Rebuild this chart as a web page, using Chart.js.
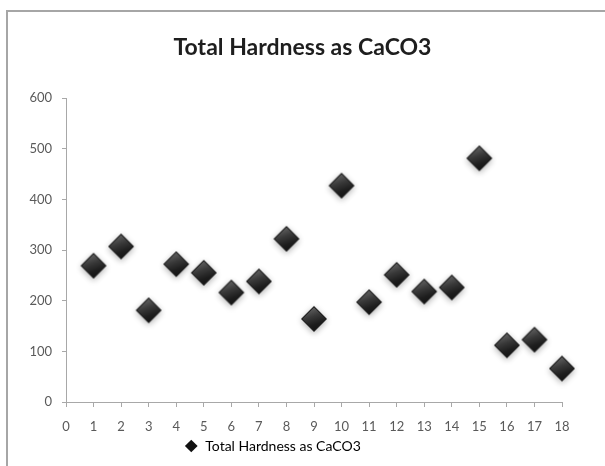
<!DOCTYPE html>
<html>
<head>
<meta charset="utf-8">
<title>Total Hardness as CaCO3</title>
<script src="https://cdn.jsdelivr.net/npm/chart.js@4.4.1/dist/chart.umd.min.js"></script>
<style>
  html, body { margin: 0; padding: 0; background: #ffffff; }
  #wrap { position: relative; width: 605px; height: 466px; overflow: hidden; }
  #chart { position: absolute; left: 0; top: 0; }
  #frame {
    position: absolute; left: 6px; top: 10px; width: 620px; height: 480px;
    border-left: 2px solid #a6a6a6; border-top: 2px solid #a6a6a6;
    pointer-events: none;
  }
</style>
</head>
<body>
<div id="wrap">
  <canvas id="chart" width="605" height="466"></canvas>
  <div id="frame"></div>
</div>
<script>
// Sample numbers and measured total hardness (mg/L as CaCO3)
const sampleNo = [1, 2, 3, 4, 5, 6, 7, 8, 9, 10, 11, 12, 13, 14, 15, 16, 17, 18];
const hardness = [269, 307, 181, 272, 255, 216, 238, 322, 164, 427, 197, 251, 218, 226, 481, 112, 123, 66];
const seriesName = 'Total Hardness as CaCO3';
const xTicks = [0, 1, 2, 3, 4, 5, 6, 7, 8, 9, 10, 11, 12, 13, 14, 15, 16, 17, 18];
const yTicks = [0, 100, 200, 300, 400, 500, 600];

// Bevelled black diamond used as the point marker
function makeDiamond(r) {
  const pad = 7;
  const s = 2 * (r + pad);
  const c = document.createElement('canvas');
  c.width = s; c.height = s;
  const g = c.getContext('2d');
  const cx = s / 2, cy = s / 2;
  const path = (rr) => {
    g.beginPath();
    g.moveTo(cx, cy - rr);
    g.lineTo(cx + rr, cy);
    g.lineTo(cx, cy + rr);
    g.lineTo(cx - rr, cy);
    g.closePath();
  };
  g.save();
  g.shadowColor = 'rgba(0,0,0,0.30)';
  g.shadowBlur = 6;
  g.shadowOffsetY = 2;
  path(r);
  g.fillStyle = '#1b1b1b';
  g.fill();
  g.restore();
  const grad = g.createLinearGradient(cx - r * 0.4, cy - r, cx + r * 0.3, cy + r);
  grad.addColorStop(0, '#6e6e6e');
  grad.addColorStop(0.4, '#3a3a3a');
  grad.addColorStop(0.7, '#1e1e1e');
  grad.addColorStop(1, '#111111');
  path(r - 1.5);
  g.fillStyle = grad;
  g.fill();
  return c;
}
const marker = makeDiamond(13);

const xData = sampleNo.map((x, i) => ({ x: x, y: hardness[i] }));

const axisGray = '#a8a8a8';
const tickText = '#5a5a5a';
const tickFont = { family: 'Lato, "Open Sans", sans-serif', size: 13 };

// Moves the legend horizontally by a fixed offset after layout
const legendShift = {
  id: 'legendShift',
  afterLayout(chart, args, opts) {
    const lg = chart.legend;
    if (lg) { lg.left += opts.dx; lg.right += opts.dx; }
  }
};

new Chart(document.getElementById('chart'), {
  type: 'scatter',
  data: {
    datasets: [{
      label: seriesName,
      data: xData,
      pointStyle: marker,
      pointRadius: 13,
      pointHoverRadius: 13,
      backgroundColor: '#1b1b1b',
      borderColor: '#1b1b1b',
      clip: false
    }]
  },
  plugins: [legendShift],
  options: {
    responsive: false,
    animation: false,
    events: [],
    layout: { padding: { top: 0, left: 0, right: 0, bottom: 3 } },
    plugins: {
      legendShift: { dx: -30 },
      title: {
        display: true,
        text: 'Total Hardness as CaCO3',
        color: '#1e1e1e',
        font: { family: 'Lato, "Open Sans", sans-serif', size: 23, weight: 'bold', lineHeight: 1.2 },
        padding: { top: 34, bottom: 36.4 }
      },
      legend: {
        display: true,
        position: 'bottom',
        labels: {
          usePointStyle: true,
          pointStyle: 'rectRot',
          boxHeight: 9,
          color: '#4a4a4a',
          font: { family: 'Lato, "Open Sans", sans-serif', size: 14 },
          padding: 6,
          generateLabels(chart) {
            return [{
              text: seriesName,
              fillStyle: '#111111',
              strokeStyle: '#111111',
              lineWidth: 0,
              pointStyle: 'rectRot',
              datasetIndex: 0,
              hidden: false
            }];
          }
        }
      },
      tooltip: { enabled: false }
    },
    scales: {
      x: {
        type: 'linear',
        min: 0,
        max: 18,
        afterBuildTicks(scale) { scale.ticks = xTicks.map(v => ({ value: v })); },
        afterFit(scale) { scale.height = 31; scale.paddingRight = 43; },
        grid: { display: true, drawOnChartArea: false, drawTicks: true, tickLength: 5, color: axisGray },
        border: { display: true, color: axisGray, width: 1 },
        ticks: { color: tickText, font: tickFont, padding: 12, maxRotation: 0, autoSkip: false }
      },
      y: {
        type: 'linear',
        min: 0,
        max: 600,
        afterBuildTicks(scale) { scale.ticks = yTicks.map(v => ({ value: v })); },
        afterFit(scale) { scale.width = 66; },
        grid: { display: true, drawOnChartArea: false, drawTicks: true, tickLength: 4, color: axisGray },
        border: { display: true, color: axisGray, width: 1 },
        ticks: { color: tickText, font: tickFont, padding: 10 }
      }
    }
  }
});
</script>
</body>
</html>
